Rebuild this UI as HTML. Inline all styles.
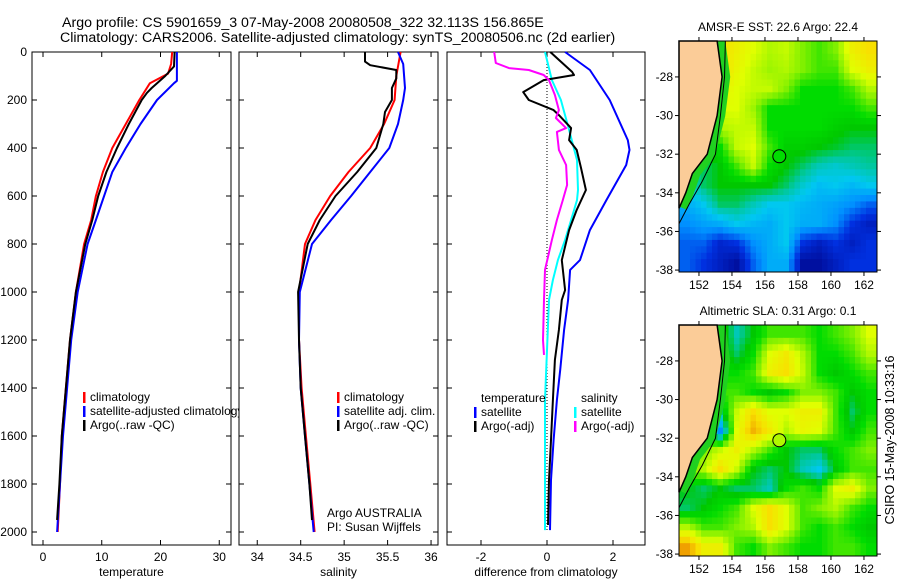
<!DOCTYPE html>
<html><head><meta charset="utf-8"><style>
html,body{margin:0;padding:0;background:#fff;width:900px;height:580px;overflow:hidden}
svg{display:block;font-family:"Liberation Sans",sans-serif}
</style></head><body>
<svg id="c" width="900" height="580" xmlns="http://www.w3.org/2000/svg">
<text x="62" y="27" font-size="14.2">Argo profile: CS 5901659_3 07-May-2008 20080508_322 32.113S 156.865E</text>
<text x="60" y="42" font-size="14.2">Climatology: CARS2006. Satellite-adjusted climatology: synTS_20080506.nc (2d earlier)</text>
<text transform="translate(894,440) rotate(-90)" text-anchor="middle" font-size="12.5">CSIRO 15-May-2008 10:33:16</text>
</svg>
<script>
// ---------- profile data ----------
const depthTempClim = [0,50,90,130,200,300,400,500,600,700,800,1000,1200,1400,1600,1800,2000];
const tempClim      = [22.0,21.8,21.3,18.2,16.4,14.1,11.8,10.2,9.0,8.2,7.0,5.6,4.6,3.9,3.2,2.9,2.5];
const depthTempSat  = [0,120,130,200,300,400,500,600,700,800,1000,1200,1400,1600,1800,2000];
const tempSat       = [22.8,22.8,22.3,19.4,16.6,14.1,11.8,10.4,9.0,7.6,5.9,4.8,4.1,3.4,2.9,2.4];
const depthTempArgo = [0,60,100,150,170,200,300,400,500,600,700,800,1000,1200,1400,1600,1800,1950];
const tempArgo      = [22.4,22.3,20.8,18.5,17.7,16.8,14.6,12.6,10.8,9.4,8.4,7.2,5.6,4.6,3.9,3.2,2.8,2.4];

const depthSalClim = [0,100,200,300,400,500,600,700,800,1000,1200,1400,1600,1800,2000];
const salClim      = [35.65,35.6,35.58,35.46,35.3,35.05,34.84,34.67,34.55,34.48,34.48,34.51,34.56,34.61,34.66];
const depthSalSat  = [0,50,150,200,300,400,500,600,700,800,1000,1200,1400,1600,1800,2000];
const salSat       = [35.62,35.68,35.7,35.68,35.62,35.52,35.3,35.08,34.85,34.63,34.49,34.48,34.5,34.55,34.6,34.65];
const depthSalArgo = [0,40,55,75,110,150,200,250,300,400,500,600,700,800,1000,1200,1400,1600,1800,1950];
const salArgo      = [35.24,35.24,35.3,35.6,35.6,35.55,35.55,35.47,35.45,35.37,35.15,34.9,34.72,34.58,34.47,34.48,34.5,34.55,34.6,34.63];

const depthDiffTS = [0,75,200,367,408,471,617,742,867,908,1033,1158,1325,1450,1617,1783,1992];
const diffTempSat = [0.55,1.3,1.9,2.45,2.5,2.4,1.8,1.3,1.0,0.7,0.64,0.52,0.4,0.3,0.2,0.12,0.09];
const depthDiffTA = [0,33,83,96,117,167,200,242,263,317,367,408,483,575,658,742,867,992,1033,1158,1283,1450,1617,1783,1971];
const diffTempArgo= [0.1,0.36,0.76,0.82,-0.1,-0.72,-0.55,0.2,0.36,0.73,0.67,0.9,1.03,1.18,0.9,0.67,0.45,0.55,0.45,0.36,0.24,0.18,0.12,0.06,0.03];
const depthDiffSS = [0,117,200,325,450,575,617,700,783,867,950,1033,1242,1450,1992];
const diffSalSat  = [-0.06,0.15,0.42,0.67,0.91,0.94,0.91,0.73,0.55,0.33,0.18,0.06,0,-0.06,-0.06];
const depthDiffSA = [0,46,67,75,96,117,179,242,275,317,333,408,471,554,617,700,783,908,1033,1200,1262];
const diffSalArgo = [-1.6,-1.55,-1.15,-0.55,-0.1,0.06,0.24,0.36,0.27,0.58,0.3,0.36,0.58,0.61,0.48,0.3,0.15,-0.06,-0.09,-0.12,-0.09];

const depthTicks = [0,200,400,600,800,1000,1200,1400,1600,1800,2000];
const tempTicks = [0,10,20,30];
const salTicks = [34,34.5,35,35.5,36];
const salTickLabels = ["34","34.5","35","35.5","36"];
const diffTicks = [-2,0,2];

// ---------- map data (12x12 grids, 0=cold/low .. 1=warm/high, -1=land) ----------
const sstGrid = [
[-1,-1,0.85,0.8,0.75,0.7,0.72,0.65,0.6,0.65,0.8,0.85],
[-1,-1,0.85,0.78,0.72,0.68,0.7,0.65,0.6,0.6,0.75,0.8],
[-1,-1,0.8,0.75,0.72,0.72,0.65,0.55,0.55,0.55,0.6,0.7],
[-1,-1,0.75,0.75,0.68,0.55,0.55,0.55,0.55,0.55,0.55,0.6],
[-1,-1,0.7,0.72,0.72,0.55,0.55,0.55,0.55,0.52,0.5,0.5],
[-1,0.5,0.55,0.72,0.75,0.6,0.52,0.52,0.5,0.48,0.45,0.45],
[-1,0.45,0.5,0.6,0.72,0.55,0.5,0.45,0.4,0.38,0.4,0.42],
[0.35,0.45,0.5,0.5,0.5,0.5,0.45,0.38,0.33,0.35,0.32,0.35],
[0.3,0.35,0.45,0.45,0.4,0.35,0.35,0.32,0.3,0.28,0.25,0.2],
[0.25,0.28,0.3,0.35,0.32,0.3,0.35,0.3,0.3,0.25,0.15,0.1],
[0.2,0.2,0.12,0.15,0.25,0.3,0.35,0.15,0.1,0.15,0.1,0.15],
[0.2,0.15,0.1,0.05,0.2,0.3,0.3,0.05,0.05,0.1,0.15,0.15]];
const slaGrid = [
[-1,-1,0.55,0.4,0.5,0.6,0.6,0.6,0.55,0.6,0.65,0.75],
[-1,-1,0.55,0.45,0.55,0.75,0.82,0.7,0.55,0.55,0.6,0.7],
[-1,-1,0.55,0.55,0.6,0.8,0.85,0.72,0.55,0.5,0.55,0.6],
[-1,-1,0.6,0.6,0.55,0.5,0.55,0.65,0.65,0.6,0.5,0.55],
[-1,-1,0.45,0.72,0.85,0.75,0.75,0.8,0.8,0.6,0.45,0.55],
[-1,0.55,0.25,0.75,0.92,0.82,0.7,0.78,0.75,0.6,0.5,0.6],
[-1,0.65,0.72,0.8,0.7,0.6,0.5,0.45,0.45,0.55,0.6,0.65],
[0.65,0.7,0.85,0.72,0.5,0.45,0.5,0.4,0.35,0.5,0.6,0.6],
[0.5,0.45,0.5,0.45,0.45,0.4,0.55,0.6,0.55,0.75,0.8,0.65],
[0.45,0.5,0.55,0.6,0.75,0.85,0.75,0.6,0.65,0.7,0.6,0.55],
[0.7,0.6,0.6,0.65,0.7,0.85,0.75,0.6,0.55,0.6,0.55,0.5],
[0.95,0.8,0.8,0.6,0.55,0.65,0.6,0.55,0.55,0.6,0.6,0.55]];
const lonTicks = [152,154,156,158,160,162];
const latTicks = [-28,-30,-32,-34,-36,-38];
const coastLon = [153.1,153.4,153.1,152.5,151.6,151.2,150.79];
const coastLat = [-26.14,-28,-30,-32,-33,-34,-34.8];
const isobathLon = [153.6,153.55,153.3,153.0,152.2,151.4,150.79];
const isobathLat = [-26.14,-28,-30,-32,-33.4,-34.6,-35.6];
const argoLon = 156.87, argoLat = -32.11;

// ---------- drawing ----------
const NS='http://www.w3.org/2000/svg';
const svg=document.getElementById('c');
function mk(tag,attrs,parent){const e=document.createElementNS(NS,tag);for(const k in attrs)e.setAttribute(k,attrs[k]);(parent||svg).appendChild(e);return e;}
function lin(d0,d1,p0,p1){return v=>p0+(v-d0)*(p1-p0)/(d1-d0);}

const yTop=52,yBot=545;
const yDepth=lin(0,2000,52,532);

function panel(name,x0,x1,xmin,xmax,ticks,labels,title,showY){
  const g=mk('g',{});
  
  
  const r=mk('rect',{x:x0,y:yTop,width:x1-x0,height:yBot-yTop,fill:'#fff',stroke:'#000','stroke-width':1},g);
  
  
  const xs=lin(xmin,xmax,x0,x1);
  ticks.forEach((t,i)=>{
    const x=xs(t);
    mk('line',{x1:x,x2:x,y1:yBot,y2:yBot-5,stroke:'#000'},g);
    mk('line',{x1:x,x2:x,y1:yTop,y2:yTop+5,stroke:'#000'},g);
    const tl=mk('text',{x:x,y:yBot+16,'text-anchor':'middle','font-size':12},g);
    tl.textContent=labels[i];
    
    
  });
  depthTicks.forEach(d=>{
    const y=yDepth(d);
    mk('line',{x1:x0,x2:x0+5,y1:y,y2:y,stroke:'#000'},g);
    mk('line',{x1:x1,x2:x1-5,y1:y,y2:y,stroke:'#000'},g);
    if(showY){
      const tl=mk('text',{x:x0-5,y:y+4,'text-anchor':'end','font-size':12},g);
      tl.textContent=String(d);
      
      
    }
  });
  const at=mk('text',{x:(x0+x1)/2,y:576,'text-anchor':'middle','font-size':12},g);
  at.textContent=title;
  
  
  return {g,xs};
}
function line(p,xsArr,dArr,color,name,w){
  const pts=xsArr.map((v,i)=>p.xs(v).toFixed(1)+','+yDepth(dArr[i]).toFixed(1)).join(' ');
  const l=mk('polyline',{points:pts,fill:'none',stroke:color,'stroke-width':w||2,'stroke-linejoin':'round'},p.g);
  
  
}
function legend(g,x,y,color,label,name){
  if(color){mk('rect',{x:x-7,y:y-9,width:2.5,height:11,fill:color},g);}
  const t=mk('text',{x:x,y:y,'font-size':12},g);
  t.textContent=label;
  
  
}

const p1=panel('temperature-panel',32,231,-1.87,32,tempTicks,tempTicks.map(String),'temperature',true);
line(p1,tempClim,depthTempClim,'#ff0000','temp-climatology-line');
line(p1,tempSat,depthTempSat,'#0000ff','temp-satellite-line');
line(p1,tempArgo,depthTempArgo,'#000000','temp-argo-line');
legend(p1.g,90,401,'#ff0000','climatology','legend-climatology');
legend(p1.g,90,415,'#0000ff','satellite-adjusted climatology','legend-satellite-adjusted');
legend(p1.g,90,429,'#000000','Argo(..raw -QC)','legend-argo');

const p2=panel('salinity-panel',239,438,33.79,36.08,salTicks,salTickLabels,'salinity',false);
line(p2,salClim,depthSalClim,'#ff0000','sal-climatology-line');
line(p2,salSat,depthSalSat,'#0000ff','sal-satellite-line');
line(p2,salArgo,depthSalArgo,'#000000','sal-argo-line');
legend(p2.g,344,401,'#ff0000','climatology','legend-climatology');
legend(p2.g,344,415,'#0000ff','satellite adj. clim.','legend-satellite-adj');
legend(p2.g,344,429,'#000000','Argo(..raw -QC)','legend-argo');
legend(p2.g,327,517,null,'Argo AUSTRALIA','argo-australia-text');
legend(p2.g,327,531,null,'PI: Susan Wijffels','pi-text');

const p3=panel('difference-panel',447,645,-3.03,2.97,diffTicks,diffTicks.map(String),'difference from climatology',false);
const zl=mk('line',{x1:p3.xs(0),x2:p3.xs(0),y1:yTop,y2:yDepth(2000),stroke:'#000','stroke-dasharray':'1,2'},p3.g);


line(p3,diffTempSat,depthDiffTS,'#0000ff','diff-temp-satellite-line');
line(p3,diffSalSat,depthDiffSS,'#00ffff','diff-sal-satellite-line');
line(p3,diffTempArgo,depthDiffTA,'#000000','diff-temp-argo-line');
line(p3,diffSalArgo,depthDiffSA,'#ff00ff','diff-sal-argo-line');
legend(p3.g,481,402,null,'temperature','legend-temperature-heading');
legend(p3.g,481,416,'#0000ff','satellite','legend-temp-satellite');
legend(p3.g,481,430,'#000000','Argo(-adj)','legend-temp-argo');
legend(p3.g,581,402,null,'salinity','legend-salinity-heading');
legend(p3.g,581,416,'#00ffff','satellite','legend-sal-satellite');
legend(p3.g,581,430,'#ff00ff','Argo(-adj)','legend-sal-argo');

// colormap
const cmStops=[[0,[0,0,128]],[0.15,[0,48,224]],[0.25,[0,144,255]],[0.35,[0,200,240]],[0.42,[0,200,160]],[0.5,[0,200,0]],[0.55,[0,220,0]],[0.65,[128,240,0]],[0.75,[224,255,0]],[0.85,[248,224,0]],[0.95,[240,160,0]],[1,[192,64,0]]];
function cmap(v){
  for(let i=1;i<cmStops.length;i++){
    if(v<=cmStops[i][0]){const a=cmStops[i-1],b=cmStops[i],f=(v-a[0])/(b[0]-a[0]);
      const c=a[1].map((x,k)=>Math.round(x+(b[1][k]-x)*f));return 'rgb('+c.join(',')+')';}
  }
  return 'rgb(192,64,0)';
}
const lonMin=150.79,lonMax=162.79,latTop=-26.14,latBot=-38.1;
function sample(grid,r,c){
  const nr=grid.length,nc=grid[0].length;
  const val=(i,j)=>{i=Math.max(0,Math.min(nr-1,i));j=Math.max(0,Math.min(nc-1,j));
    let v=grid[i][j]; if(v<0){ // land: use nearest ocean value to the right
      for(let k=j;k<nc;k++){if(grid[i][k]>=0){v=grid[i][k];break;}} }
    return v;};
  const r0=Math.floor(r),c0=Math.floor(c),fr=r-r0,fc=c-c0;
  return val(r0,c0)*(1-fr)*(1-fc)+val(r0,c0+1)*(1-fr)*fc+val(r0+1,c0)*fr*(1-fc)+val(r0+1,c0+1)*fr*fc;
}
function map(name,y0,y1,grid,title,markerFill){
  const g=mk('g',{});
  
  
  const x0=679,x1=877;
  const xs=lin(lonMin,lonMax,x0,x1), ys=lin(latTop,latBot,y0,y1);
  const nr=grid.length,nc=grid[0].length,up=3;
  const cw=(x1-x0)/(nc*up),ch=(y1-y0)/(nr*up);
  for(let r=0;r<nr*up;r++)for(let c=0;c<nc*up;c++){
    const v=sample(grid,(r+0.5)/up-0.5,(c+0.5)/up-0.5);
    const cell=mk('rect',{x:(x0+c*cw).toFixed(2),y:(y0+r*ch).toFixed(2),width:(cw+0.4).toFixed(2),height:(ch+0.4).toFixed(2),fill:cmap(v)},g);
    
    
  }
  const shelf=mk('polyline',{points:coastLon.map((l,i)=>xs(l+0.25)+','+ys(coastLat[i])).join(' '),fill:'none',stroke:'#20d020','stroke-width':8},g);
  
  
  const landPts=coastLon.map((l,i)=>xs(l)+','+ys(coastLat[i])).join(' ')+' '+x0+','+y0;
  const land=mk('polygon',{points:landPts,fill:'#fbcc98',stroke:'#000','stroke-width':1.5},g);
  
  
  const iso=mk('polyline',{points:isobathLon.map((l,i)=>xs(l)+','+ys(isobathLat[i])).join(' '),fill:'none',stroke:'#000','stroke-width':1},g);
  
  
  const mkr=mk('circle',{cx:xs(argoLon),cy:ys(argoLat),r:6.5,fill:markerFill,stroke:'#000','stroke-width':1},g);
  
  
  mk('rect',{x:x0,y:y0,width:x1-x0,height:y1-y0,fill:'none',stroke:'#000'},g);
  lonTicks.forEach(l=>{const x=xs(l);
    mk('line',{x1:x,x2:x,y1:y1,y2:y1+4,stroke:'#000'},g);
    mk('line',{x1:x,x2:x,y1:y0,y2:y0-4,stroke:'#000'},g);
    const t=mk('text',{x:x,y:y1+17,'text-anchor':'middle','font-size':12},g);
    t.textContent=String(l);
    
    
  });
  latTicks.forEach(l=>{const y=ys(l);
    mk('line',{x1:x0,x2:x0-4,y1:y,y2:y,stroke:'#000'},g);
    mk('line',{x1:x1,x2:x1+4,y1:y,y2:y,stroke:'#000'},g);
    const t=mk('text',{x:x0-6,y:y+4,'text-anchor':'end','font-size':12},g);
    t.textContent=String(l);
    
    
  });
  const tt=mk('text',{x:(x0+x1)/2,y:y0-10,'text-anchor':'middle','font-size':12},g);
  tt.textContent=title;
  
  
}
map('sst-map',41,272,sstGrid,'AMSR-E SST: 22.6 Argo: 22.4',cmap(0.55));
map('sla-map',325,556,slaGrid,'Altimetric SLA: 0.31 Argo: 0.1',cmap(0.7));
</script>
</body></html>
